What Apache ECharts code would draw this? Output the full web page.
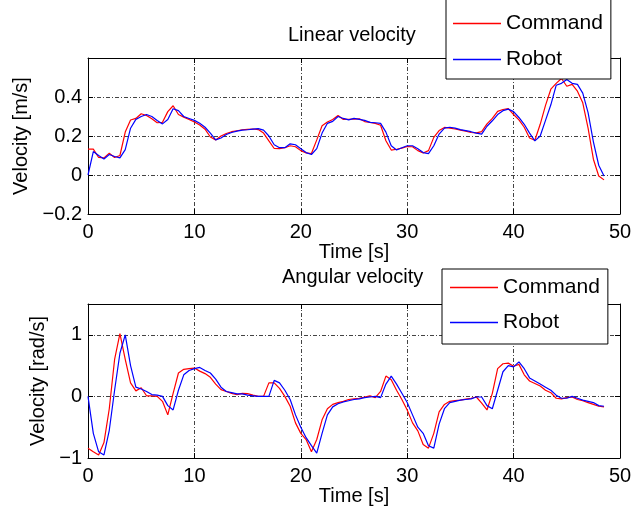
<!DOCTYPE html>
<html>
<head lang="en">
    <meta charset="UTF-8">
    <title>Velocity</title>
    <style>
        html, body { margin: 0; padding: 0; background: #fff; }
        #main { width: 631px; height: 517px; }
    </style>
</head>
<body>
<div id="main"></div>
<script src="https://cdn.jsdelivr.net/npm/echarts@6/dist/echarts.min.js"></script>
<script type="text/javascript">
    // time stamps [s]
    var timeS = [
        0, 0.5, 1, 1.5, 2, 2.5, 3, 3.5, 4, 4.5,
        5, 5.5, 6, 6.5, 7, 7.5, 8, 8.5, 9, 9.5,
        10, 10.5, 11, 11.5, 12, 12.5, 13, 13.5, 14, 14.5,
        15, 15.5, 16, 16.5, 17, 17.5, 18, 18.5, 19, 19.5,
        20, 20.5, 21, 21.5, 22, 22.5, 23, 23.5, 24, 24.5,
        25, 25.5, 26, 26.5, 27, 27.5, 28, 28.5, 29, 29.5,
        30, 30.5, 31, 31.5, 32, 32.5, 33, 33.5, 34, 34.5,
        35, 35.5, 36, 36.5, 37, 37.5, 38, 38.5, 39, 39.5,
        40, 40.5, 41, 41.5, 42, 42.5, 43, 43.5, 44, 44.5,
        45, 45.5, 46, 46.5, 47, 47.5, 48, 48.5
    ];
    // linear velocity [m/s]
    var linCommand = [
        0.133, 0.133, 0.09, 0.088, 0.112, 0.09, 0.1, 0.22, 0.282, 0.29,
        0.314, 0.305, 0.288, 0.268, 0.27, 0.325, 0.355, 0.31, 0.297, 0.285,
        0.272, 0.256, 0.235, 0.195, 0.18, 0.2, 0.213, 0.222, 0.227, 0.232,
        0.234, 0.236, 0.233, 0.215, 0.175, 0.136, 0.135, 0.14, 0.15, 0.145,
        0.125, 0.113, 0.11, 0.18, 0.253, 0.272, 0.285, 0.305, 0.285, 0.286,
        0.287, 0.288, 0.274, 0.27, 0.265, 0.255, 0.176, 0.128, 0.132, 0.138,
        0.146, 0.145, 0.125, 0.113, 0.125, 0.193, 0.228, 0.244, 0.24, 0.236,
        0.23, 0.225, 0.218, 0.216, 0.222, 0.262, 0.29, 0.326, 0.336, 0.34,
        0.31, 0.283, 0.245, 0.19, 0.178, 0.26, 0.357, 0.44, 0.47, 0.495,
        0.455, 0.465, 0.43, 0.37, 0.24, 0.081, -0.005, -0.025
    ];
    var linRobot = [
        0, 0.12, 0.1, 0.082, 0.105, 0.095, 0.088, 0.13, 0.24, 0.285,
        0.3, 0.31, 0.3, 0.28, 0.262, 0.285, 0.34, 0.33, 0.3, 0.29,
        0.28, 0.265, 0.245, 0.215, 0.18, 0.19, 0.208, 0.218, 0.225, 0.23,
        0.232, 0.235, 0.238, 0.23, 0.2, 0.155, 0.14, 0.14, 0.16, 0.155,
        0.135, 0.115, 0.105, 0.135, 0.215, 0.265, 0.275, 0.3, 0.29, 0.283,
        0.29, 0.285, 0.28, 0.27, 0.268, 0.265, 0.22, 0.15, 0.128, 0.14,
        0.15, 0.15, 0.135, 0.115, 0.11, 0.15, 0.21, 0.24, 0.245, 0.24,
        0.233, 0.228, 0.222, 0.215, 0.21, 0.25, 0.278, 0.31, 0.33, 0.338,
        0.325, 0.295, 0.26, 0.215, 0.175, 0.2, 0.28, 0.36, 0.46, 0.47,
        0.49, 0.47, 0.465, 0.42, 0.32, 0.17, 0.05, -0.005
    ];
    // angular velocity [rad/s]
    var angCommand = [
        -0.84, -0.9, -0.95, -0.75, -0.2, 0.6, 1.02, 0.6, 0.22, 0.09,
        0.14, 0.01, 0.01, 0.0, -0.08, -0.3, 0.05, 0.38, 0.44, 0.45,
        0.46, 0.41, 0.37, 0.31, 0.2, 0.11, 0.08, 0.05, 0.03, 0.05,
        0.045, 0.02, 0.0, 0.0, 0.22, 0.22, 0.13, 0.0, -0.16, -0.43,
        -0.6, -0.7, -0.9, -0.7, -0.38, -0.2, -0.13, -0.1, -0.08, -0.05,
        -0.04, -0.03, -0.01, 0.01, -0.02, 0.08, 0.33, 0.27, 0.1, -0.05,
        -0.22, -0.43, -0.56, -0.78, -0.84, -0.6, -0.25, -0.13, -0.08, -0.07,
        -0.06, -0.045, -0.03, -0.01, -0.11, -0.22, 0.05, 0.45, 0.53, 0.54,
        0.49, 0.52, 0.35, 0.25, 0.21, 0.17, 0.1, 0.06, -0.03, -0.04,
        -0.02, -0.01, -0.05, -0.07, -0.1, -0.13, -0.16, -0.17
    ];
    var angRobot = [
        0, -0.6, -0.9, -0.95, -0.55, 0.1, 0.7, 1.0, 0.5, 0.15,
        0.12, 0.08, 0.03, 0.02, 0.0, -0.15, -0.22, 0.1, 0.35, 0.42,
        0.45, 0.47, 0.42, 0.38, 0.28, 0.15, 0.08, 0.06, 0.04, 0.04,
        0.02, 0.01, 0.0, 0.0, 0.0, 0.26, 0.22, 0.1, -0.05, -0.3,
        -0.5, -0.67, -0.8, -0.92, -0.6, -0.3, -0.17, -0.12, -0.09, -0.07,
        -0.05, -0.04, -0.02, -0.01, 0.0, -0.02, 0.2, 0.33, 0.2, 0.05,
        -0.1, -0.3, -0.5, -0.6, -0.8, -0.84, -0.45, -0.2, -0.1, -0.08,
        -0.06, -0.05, -0.04, -0.01, -0.01, -0.15, -0.2, 0.1, 0.4, 0.5,
        0.48, 0.56, 0.45, 0.3, 0.25, 0.2, 0.15, 0.1, 0.02, -0.03,
        -0.03, 0.0, -0.03, -0.06, -0.08, -0.1, -0.15, -0.16
    ];

    var FONT = "'Liberation Sans', Arial, Helvetica, sans-serif";
    var gridLine = {show: true, lineStyle: {color: '#444', width: 1, type: [4, 2, 1, 2]}};
    var boxLine = {show: true, onZero: false, lineStyle: {color: '#000', width: 1}};
    var tick = {show: true, inside: true, length: 5, lineStyle: {color: '#000'}};

    function pairs(vals) {
        return timeS.map(function (t, i) { return [t, vals[i]]; });
    }
    // minus sign like matlab, hide the top label
    function yLabel(hideAt) {
        return function (v) {
            if (Math.abs(v - hideAt) < 1e-9) return '';
            var s = String(Math.round(Math.abs(v) * 10) / 10);
            return v < -1e-9 ? '\u2212' + s : s;
        };
    }
    function xAxes(grid) {
        return [
            {type: 'value', gridIndex: grid, min: 0, max: 50, interval: 10, position: 'bottom',
                axisLine: boxLine, axisTick: tick, splitLine: gridLine,
                axisLabel: {color: '#000', fontSize: 20, fontFamily: FONT, margin: 8},
                name: 'Time [s]', nameLocation: 'middle', nameGap: 26,
                nameTextStyle: {color: '#000', fontSize: 20, fontFamily: FONT}},
            {type: 'value', gridIndex: grid, min: 0, max: 50, interval: 10, position: 'top',
                axisLine: boxLine, axisTick: tick, splitLine: {show: false}, axisLabel: {show: false}}
        ];
    }
    function yAxes(grid, min, max, hideAt, name, gap) {
        return [
            {type: 'value', gridIndex: grid, min: min, max: max, interval: grid === 0 ? 0.2 : 1, position: 'left',
                axisLine: boxLine, axisTick: tick, splitLine: gridLine,
                axisLabel: {color: '#000', fontSize: 20, fontFamily: FONT, margin: 6, formatter: yLabel(hideAt)},
                name: name, nameLocation: 'middle', nameGap: gap,
                nameTextStyle: {color: '#000', fontSize: 20, fontFamily: FONT}},
            {type: 'value', gridIndex: grid, min: min, max: max, interval: grid === 0 ? 0.2 : 1, position: 'right',
                axisLine: boxLine, axisTick: tick, splitLine: {show: false}, axisLabel: {show: false}}
        ];
    }
    function line(name, color, axis, vals) {
        return {name: name, type: 'line', xAxisIndex: axis, yAxisIndex: axis, data: pairs(vals),
            symbol: 'none', animation: false,
            lineStyle: {color: color, width: 1.2}, itemStyle: {color: color}};
    }
    function legendBox(left, top, pad, gap) {
        return {left: left, top: top, orient: 'vertical', padding: pad, itemGap: gap,
            itemWidth: 48, itemHeight: 1.5, icon: 'rect', selectedMode: false,
            backgroundColor: '#fff', borderColor: '#000', borderWidth: 1, borderRadius: 0,
            data: ['Command', 'Robot'],
            textStyle: {color: '#000', fontSize: 21, fontFamily: FONT, lineHeight: 20}};
    }

    var myChart = echarts.init(document.getElementById('main'));
    var option = {
        backgroundColor: '#fff',
        animation: false,
        title: [
            {text: 'Linear velocity', left: 288, top: 25, padding: 0,
                textStyle: {color: '#000', fontSize: 20, fontWeight: 'normal', fontFamily: FONT, lineHeight: 20}},
            {text: 'Angular velocity', left: 282, top: 267, padding: 0,
                textStyle: {color: '#000', fontSize: 20, fontWeight: 'normal', fontFamily: FONT, lineHeight: 20}}
        ],
        grid: [
            {left: 88, top: 58, width: 532, height: 156, containLabel: false, outerBoundsMode: 'none'},
            {left: 88, top: 304, width: 532, height: 154, containLabel: false, outerBoundsMode: 'none'}
        ],
        legend: [
            legendBox(446, -1, [14, 8, 9, 7], 15),
            legendBox(442, 269, [8, 8, 11, 8], 14)
        ],
        xAxis: xAxes(0).concat(xAxes(1)),
        yAxis: yAxes(0, -0.2, 0.6, 0.6, 'Velocity [m/s]', 54).concat(yAxes(1, -1, 1.5, 1.5, 'Velocity [rad/s]', 37)),
        series: [
            line('Command', '#ff0000', 0, linCommand),
            line('Robot', '#0000ff', 0, linRobot),
            line('Command', '#ff0000', 2, angCommand),
            line('Robot', '#0000ff', 2, angRobot)
        ]
    };
    myChart.setOption(option);
</script>
</body>
</html>
